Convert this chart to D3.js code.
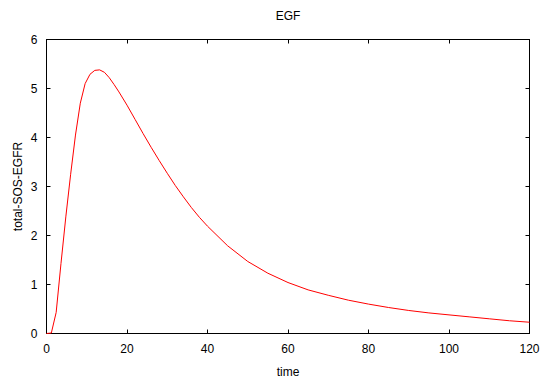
<!DOCTYPE html>
<html lang="en">
<head>
<meta charset="utf-8">
<title>EGF</title>
<script src="https://cdn.jsdelivr.net/npm/d3@7/dist/d3.min.js"></script>
<style>
  body { margin: 0; background: #fff; }
  svg text { font-family: "Liberation Sans", Arial, sans-serif; font-size: 12px; fill: #000; }
</style>
</head>
<body>
<script>
// values
var times = [0, 1.2, 2.4, 3.6, 4.8, 6, 7.2, 8.4, 9.6, 10.8, 12, 13.2, 14.4, 15.6, 16.8, 18,
             20, 22, 24, 26, 28, 30, 32, 34, 36, 38, 40, 45, 50, 55, 60, 65, 70, 75,
             80, 85, 90, 95, 100, 105, 110, 115, 120];
var totalSosEgfr = [0, 0.01, 0.43, 1.43, 2.38, 3.25, 4.05, 4.7, 5.1, 5.29, 5.37, 5.38, 5.33, 5.22, 5.08, 4.93,
                    4.66, 4.37, 4.08, 3.8, 3.53, 3.27, 3.02, 2.79, 2.57, 2.37, 2.19, 1.79, 1.47, 1.23, 1.04, 0.89, 0.78, 0.68,
                    0.6, 0.53, 0.47, 0.42, 0.38, 0.34, 0.3, 0.26, 0.23];
var xTicks = [0, 20, 40, 60, 80, 100, 120];
var yTicks = [0, 1, 2, 3, 4, 5, 6];

var w = 541, h = 381;
var pLeft = 46.5, pRight = 529.5, pTop = 39.5, pBottom = 333.5;

var svg = d3.select("body").append("svg")
    .attr("width", w)
    .attr("height", h);

var x = d3.scaleLinear().domain([0, 120]).range([pLeft, pRight]);
var y = d3.scaleLinear().domain([0, 6]).range([pBottom, pTop]);

var tick = 4;

// frame
svg.append("rect")
   .attr("x", pLeft).attr("y", pTop)
   .attr("width", pRight - pLeft).attr("height", pBottom - pTop)
   .attr("fill", "none").attr("stroke", "#000").attr("stroke-width", 1);

// gnuplot style inward ticks on all sides
var ax = svg.append("g").attr("stroke", "#000").attr("stroke-width", 1);
xTicks.forEach(function(t) {
  var px = Math.round(x(t) - 0.5) + 0.5;
  ax.append("line").attr("x1", px).attr("x2", px).attr("y1", pBottom).attr("y2", pBottom - tick);
  ax.append("line").attr("x1", px).attr("x2", px).attr("y1", pTop).attr("y2", pTop + tick);
});
yTicks.forEach(function(t) {
  var py = Math.round(y(t) - 0.5) + 0.5;
  ax.append("line").attr("y1", py).attr("y2", py).attr("x1", pLeft).attr("x2", pLeft + tick);
  ax.append("line").attr("y1", py).attr("y2", py).attr("x1", pRight).attr("x2", pRight - tick);
});

svg.selectAll("text.xt")
   .data(xTicks)
   .enter().append("text")
   .attr("class", "xt")
   .attr("x", function(d) { return x(d); })
   .attr("y", pBottom + 19)
   .attr("text-anchor", "middle")
   .text(function(d) { return d; });

svg.selectAll("text.yt")
   .data(yTicks)
   .enter().append("text")
   .attr("class", "yt")
   .attr("x", pLeft - 9)
   .attr("y", function(d) { return y(d) + 4; })
   .attr("text-anchor", "end")
   .text(function(d) { return d; });

svg.append("text")
   .attr("x", (pLeft + pRight) / 2)
   .attr("y", 20)
   .attr("text-anchor", "middle")
   .text("EGF");

svg.append("text")
   .attr("x", (pLeft + pRight) / 2)
   .attr("y", 376)
   .attr("text-anchor", "middle")
   .text("time");

svg.append("text")
   .attr("transform", "translate(22," + ((pTop + pBottom) / 2) + ") rotate(-90)")
   .attr("text-anchor", "middle")
   .text("total-SOS-EGFR");

var line = d3.line()
   .x(function(d, i) { return x(times[i]); })
   .y(function(d) { return y(d); });

svg.append("path")
   .datum(totalSosEgfr)
   .attr("d", line)
   .attr("fill", "none")
   .attr("stroke", "#ff0000")
   .attr("stroke-width", 1);
</script>
</body>
</html>
